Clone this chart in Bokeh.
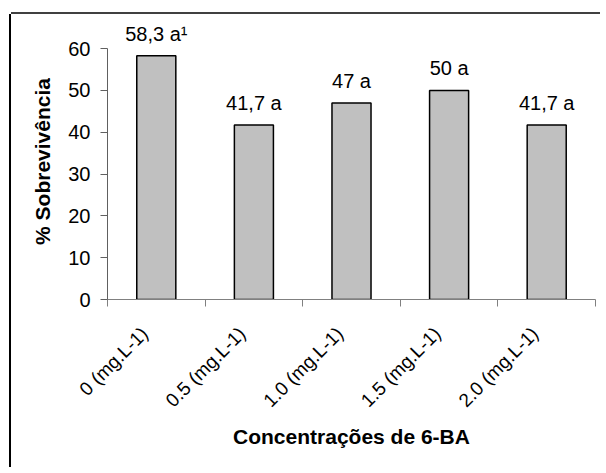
import math
from bokeh.plotting import figure
from bokeh.models import (ColumnDataSource, Range1d, FixedTicker, LinearAxis,
                          LabelSet, CustomJSTickFormatter)
from bokeh.core.properties import value
from bokeh.embed import file_html
from bokeh.resources import INLINE

# ---- data ----
categories = ["0 (mg.L-1)", "0.5 (mg.L-1)", "1.0 (mg.L-1)", "1.5 (mg.L-1)", "2.0 (mg.L-1)"]
survival = [58.3, 41.7, 47, 50, 41.7]
bar_labels = ["58,3 a\u00b9", "41,7 a", "47 a", "50 a", "41,7 a"]
y_ticks = [0, 10, 20, 30, 40, 50, 60]
x_title = "Concentrações de 6-BA"
y_title = "% Sobrevivência"

FONT = "Liberation Sans"

n = len(categories)
positions = [i + 1 for i in range(n)]
boundaries = [i + 0.5 for i in range(n + 1)]
label_ticks = [x - 0.12 for x in positions]

src = ColumnDataSource(dict(x=positions, top=survival, label=bar_labels))

p = figure(frame_width=488, frame_height=276,
           x_range=Range1d(0.5, n + 0.5), y_range=Range1d(0, 66),
           output_backend="svg", toolbar_location=None,
           x_axis_type=None, y_axis_type=None,
           min_border_left=96, min_border_right=5,
           min_border_top=9, min_border_bottom=168)
p.outline_line_color = None
p.background_fill_color = "white"
p.border_fill_color = "white"
p.grid.visible = False
# chart-area frame: only its top and left edges fall inside the picture
p.styles = {"margin-left": "11px", "margin-top": "14px",
            "box-shadow": "-2px 0px 0px 0px #000000, 0px -2px 0px 0px #404040"}

p.vbar(x="x", top="top", width=0.4, source=src,
       fill_color="#C0C0C0", line_color="black", line_width=1.5)

labels = LabelSet(x="x", y="top", text="label", source=src,
                  text_align="center", text_baseline="alphabetic",
                  y_offset=15, text_font=value(FONT),
                  text_font_size="20px", text_color="black")
p.add_layout(labels)

yaxis = LinearAxis(ticker=FixedTicker(ticks=y_ticks, minor_ticks=[]),
                   bounds=(0, 60),
                   axis_line_color="#606060", axis_line_width=1,
                   major_tick_line_color="#606060",
                   major_tick_out=7, major_tick_in=0,
                   minor_tick_out=0, minor_tick_in=0,
                   major_label_standoff=10,
                   major_label_text_font=FONT,
                   major_label_text_font_size="20px",
                   major_label_text_color="black",
                   axis_label=y_title, axis_label_standoff=11,
                   axis_label_text_font=FONT,
                   axis_label_text_font_size="21px",
                   axis_label_text_font_style="bold",
                   axis_label_text_color="black")
p.add_layout(yaxis, "left")

xaxis = LinearAxis(ticker=FixedTicker(ticks=label_ticks, minor_ticks=boundaries),
                   formatter=CustomJSTickFormatter(args=dict(labels=categories),
                                                   code="return labels[index];"),
                   axis_line_color="#808080", axis_line_width=1,
                   major_tick_line_color=None,
                   major_tick_out=0, major_tick_in=0,
                   minor_tick_line_color="#808080",
                   minor_tick_out=7, minor_tick_in=0,
                   major_label_orientation=math.pi / 4,
                   major_label_standoff=24,
                   major_label_text_font=FONT,
                   major_label_text_font_size="19px",
                   major_label_text_color="black",
                   axis_label=x_title, axis_label_standoff=3,
                   axis_label_text_font=FONT,
                   axis_label_text_font_size="21px",
                   axis_label_text_font_style="bold",
                   axis_label_text_color="black")
p.add_layout(xaxis, "below")

open("out.html", "w").write(file_html(p, INLINE))
